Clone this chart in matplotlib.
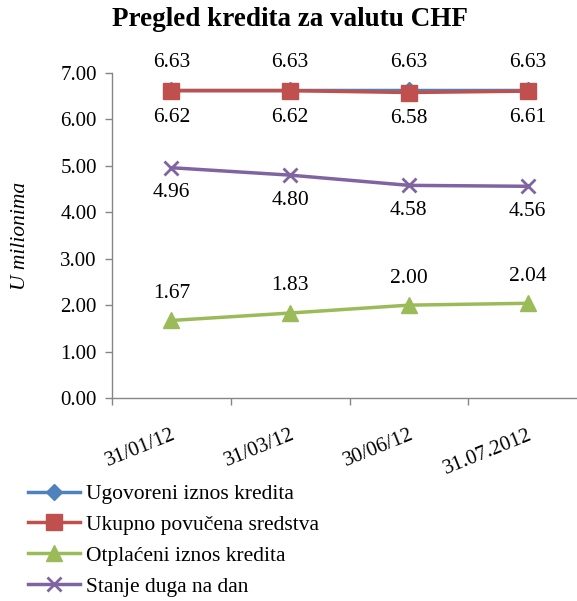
import matplotlib
matplotlib.use("Agg")
import matplotlib.pyplot as plt

categories = ["31/01/12", "31/03/12", "30/06/12", "31.07.2012"]
ugovoreni = [6.63, 6.63, 6.63, 6.63]
povucena = [6.62, 6.62, 6.58, 6.61]
otplaceni = [1.67, 1.83, 2.00, 2.04]
stanje = [4.96, 4.80, 4.58, 4.56]
labels = ["Ugovoreni iznos kredita", "Ukupno povučena sredstva",
          "Otplaćeni iznos kredita", "Stanje duga na dan"]
yticks = [0, 1, 2, 3, 4, 5, 6, 7]

plt.rcParams['font.family'] = ['Liberation Serif', 'DejaVu Serif']

fig = plt.figure(figsize=(5.77, 6.01), dpi=100)
ax = fig.add_axes([112/577, 203/601, 475/577, 325/601])

x = list(range(len(categories)))
lw = 2.5
l1, = ax.plot(x, ugovoreni, color='#4F81BD', lw=lw, marker='D', ms=8, label=labels[0], zorder=3)
l2, = ax.plot(x, povucena, color='#C0504D', lw=lw, marker='s', ms=11, label=labels[1], zorder=4)
l3, = ax.plot(x, otplaceni, color='#9BBB59', lw=lw, marker='^', ms=11, label=labels[2], zorder=3)
l4, = ax.plot(x, stanje, color='#8064A2', lw=lw, marker='x', ms=10, mew=2, label=labels[3], zorder=3)

fs = 15.5
for xi, v in zip(x, ugovoreni):
    ax.annotate(f"{v:.2f}", (xi, v), xytext=(0, 20), textcoords='offset points',
                ha='center', va='center', fontsize=fs)
for xi, v in zip(x, povucena):
    ax.annotate(f"{v:.2f}", (xi, v), xytext=(0, -19), textcoords='offset points',
                ha='center', va='center', fontsize=fs)
for xi, v in zip(x, otplaceni):
    ax.annotate(f"{v:.2f}", (xi, v), xytext=(0, 19.5), textcoords='offset points',
                ha='center', va='center', fontsize=fs)
for xi, v in zip(x, stanje):
    ax.annotate(f"{v:.2f}", (xi, v), xytext=(0, -18), textcoords='offset points',
                ha='center', va='center', fontsize=fs)

ax.set_xlim(-0.5, len(categories) - 0.5)
ax.set_ylim(0, 7)
ax.set_yticks(yticks)
ax.set_yticklabels([f"{t:.2f}" for t in yticks], fontsize=15)
ax.set_xticks(x)
ax.set_xticklabels(categories, fontsize=15, rotation=22, ha='right', rotation_mode='anchor')
ax.set_xticks([i - 0.5 for i in range(len(categories) + 1)], minor=True)
ax.tick_params(axis='x', which='major', length=0, pad=20)
ax.tick_params(axis='x', which='minor', length=5, color='#868686', width=1)
ax.tick_params(axis='y', length=5, color='#868686', width=1, pad=6)
for s in ['top', 'right']:
    ax.spines[s].set_visible(False)
for s in ['left', 'bottom']:
    ax.spines[s].set_color('#868686')
    ax.spines[s].set_linewidth(1)

ax.set_ylabel("U milionima", fontsize=15.5, style='italic')
ax.yaxis.set_label_coords((30 - 112) / 475, 0.5)
fig.text(290/577, 1 - 20/601, "Pregled kredita za valutu CHF", ha='center', va='center',
         fontsize=19.5, fontweight='bold')

fig.legend(handles=[l1, l2, l3, l4], loc='upper left', bbox_to_anchor=(28/577, 1 - 484/601),
           frameon=False, fontsize=15.5, handlelength=2.4, handletextpad=0.3,
           labelspacing=0.5, borderaxespad=0, borderpad=0)

fig.savefig("out.png", dpi=100)
